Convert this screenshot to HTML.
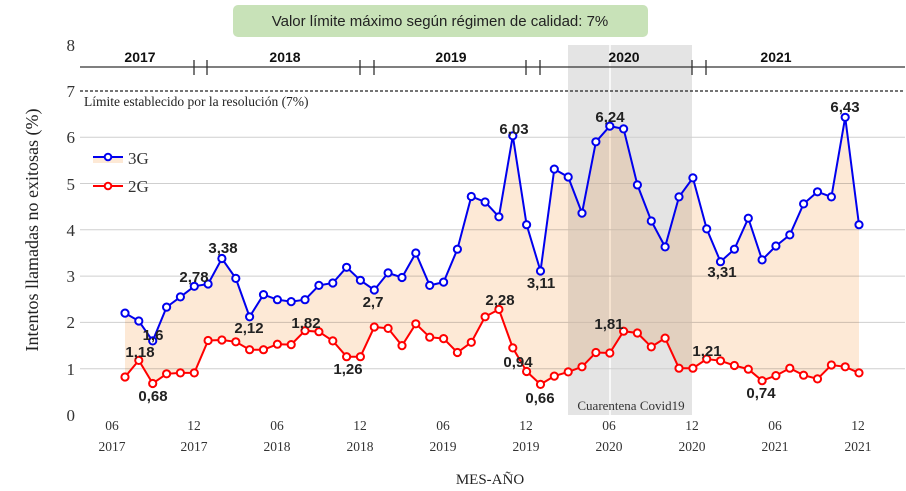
<!DOCTYPE html>
<html><head><meta charset="utf-8"><style>
html,body{margin:0;padding:0;background:#fff;}
svg{display:block;}
.ser{font-family:"Liberation Serif",serif;}
.lab{font-family:"Liberation Sans",sans-serif;font-weight:bold;font-size:15px;fill:#222;text-anchor:middle;}
</style></head><body>
<svg id="s" width="906" height="491" viewBox="0 0 906 491" xmlns="http://www.w3.org/2000/svg">
<rect width="906" height="491" fill="#fff"/>
<rect x="568" y="45" width="124" height="370" fill="#e4e4e4"/>
<line x1="610" y1="45" x2="610" y2="415" stroke="#fff" stroke-width="1.5"/>
<g stroke="#cfcfcf" stroke-width="1">
<line x1="80" y1="368.7" x2="905" y2="368.7"/>
<line x1="80" y1="322.4" x2="905" y2="322.4"/>
<line x1="80" y1="276.1" x2="905" y2="276.1"/>
<line x1="80" y1="229.8" x2="905" y2="229.8"/>
<line x1="80" y1="183.5" x2="905" y2="183.5"/>
<line x1="80" y1="137.2" x2="905" y2="137.2"/>
</g>
<g id="fill" style="mix-blend-mode:multiply"></g>
<g id="series"></g>
<line x1="80" y1="67" x2="905" y2="67" stroke="#333" stroke-width="1.3"/>
<g stroke="#333" stroke-width="1.3">
<line x1="194" y1="60" x2="194" y2="75"/><line x1="207" y1="60" x2="207" y2="75"/>
<line x1="360" y1="60" x2="360" y2="75"/><line x1="374" y1="60" x2="374" y2="75"/>
<line x1="526" y1="60" x2="526" y2="75"/><line x1="540" y1="60" x2="540" y2="75"/>
<line x1="692" y1="60" x2="692" y2="75"/><line x1="706" y1="60" x2="706" y2="75"/>
</g>
<g font-family="Liberation Sans,sans-serif" font-weight="bold" font-size="14" fill="#111" text-anchor="middle">
<text x="140" y="62">2017</text><text x="285" y="62">2018</text><text x="451" y="62">2019</text><text x="624" y="62">2020</text><text x="776" y="62">2021</text>
</g>
<line x1="80" y1="91" x2="905" y2="91" stroke="#222" stroke-width="1.3" stroke-dasharray="3,2"/>
<text class="ser" x="84" y="106" font-size="13.5" fill="#222">Límite establecido por la resolución (7%)</text>
<rect x="233" y="5" width="415" height="32" rx="5" fill="#c8e2b8"/>
<text x="440" y="26" font-family="Liberation Sans,sans-serif" font-size="15" fill="#222" text-anchor="middle">Valor límite máximo según régimen de calidad: 7%</text>
<g class="ser" font-size="17" fill="#333" text-anchor="end">
<text x="75" y="421">0</text><text x="75" y="375">1</text><text x="75" y="328">2</text><text x="75" y="282">3</text>
<text x="75" y="236">4</text><text x="75" y="190">5</text><text x="75" y="143">6</text><text x="75" y="97">7</text><text x="75" y="51">8</text>
</g>
<text class="ser" transform="translate(38,230) rotate(-90)" font-size="18" fill="#222" text-anchor="middle">Intentos llamadas no exitosas (%)</text>
<g class="ser" font-size="13.5" fill="#333" text-anchor="middle">
<text x="112" y="430">06</text><text x="112" y="451">2017</text>
<text x="194" y="430">12</text><text x="194" y="451">2017</text>
<text x="277" y="430">06</text><text x="277" y="451">2018</text>
<text x="360" y="430">12</text><text x="360" y="451">2018</text>
<text x="443" y="430">06</text><text x="443" y="451">2019</text>
<text x="526" y="430">12</text><text x="526" y="451">2019</text>
<text x="609" y="430">06</text><text x="609" y="451">2020</text>
<text x="692" y="430">12</text><text x="692" y="451">2020</text>
<text x="775" y="430">06</text><text x="775" y="451">2021</text>
<text x="858" y="430">12</text><text x="858" y="451">2021</text>
</g>
<text class="ser" x="490" y="484" font-size="15" fill="#222" text-anchor="middle">MES-AÑO</text>
<text class="ser" x="631" y="410" font-size="13" fill="#333" text-anchor="middle">Cuarentena Covid19</text>
<rect x="93" y="157" width="30" height="6" fill="#fde9d6"/>
<line x1="93" y1="157" x2="123" y2="157" stroke="#0000ee" stroke-width="2"/>
<circle cx="108" cy="157" r="3.3" fill="#fff" stroke="#0000ee" stroke-width="2"/>
<text class="ser" x="128" y="164" font-size="17" fill="#333">3G</text>
<line x1="93" y1="186" x2="123" y2="186" stroke="#ff0000" stroke-width="2"/>
<circle cx="108" cy="186" r="3.3" fill="#fff" stroke="#ff0000" stroke-width="2"/>
<text class="ser" x="128" y="192" font-size="17" fill="#333">2G</text>
<g class="lab">
<text x="153" y="340">1,6</text><text x="140" y="357">1,18</text><text x="153" y="401">0,68</text>
<text x="194" y="282">2,78</text><text x="223" y="253">3,38</text><text x="249" y="333">2,12</text>
<text x="306" y="328">1,82</text><text x="348" y="374">1,26</text><text x="373" y="307">2,7</text>
<text x="514" y="134">6,03</text><text x="500" y="305">2,28</text><text x="541" y="288">3,11</text>
<text x="518" y="367">0,94</text><text x="540" y="403">0,66</text><text x="610" y="122">6,24</text>
<text x="609" y="329">1,81</text><text x="722" y="277">3,31</text><text x="707" y="356">1,21</text>
<text x="761" y="398">0,74</text><text x="845" y="112">6,43</text>
</g>
</svg>
<script>
var g3=[2.2,2.03,1.6,2.33,2.55,2.78,2.83,3.38,2.95,2.12,2.6,2.49,2.45,2.49,2.8,2.85,3.19,2.91,2.7,3.07,2.97,3.5,2.8,2.87,3.58,4.72,4.6,4.28,6.03,4.11,3.11,5.31,5.14,4.36,5.9,6.24,6.18,4.97,4.19,3.63,4.71,5.12,4.02,3.31,3.58,4.25,3.35,3.65,3.89,4.56,4.82,4.71,6.43,4.11];
var g2=[0.82,1.18,0.68,0.89,0.91,0.91,1.61,1.62,1.58,1.41,1.41,1.53,1.52,1.82,1.8,1.6,1.26,1.26,1.9,1.87,1.5,1.97,1.68,1.65,1.35,1.57,2.12,2.28,1.45,0.94,0.66,0.84,0.93,1.04,1.35,1.34,1.81,1.77,1.47,1.66,1.01,1.01,1.21,1.17,1.07,0.99,0.74,0.85,1.01,0.86,0.78,1.08,1.04,0.91];
function X(i){return 125+i*13.85;} function Y(v){return 415-v*46.3;}
var ns="http://www.w3.org/2000/svg";
var p3=g3.map(function(v,i){return X(i).toFixed(1)+","+Y(v).toFixed(1);});
var p2=g2.map(function(v,i){return X(i).toFixed(1)+","+Y(v).toFixed(1);});
var f=document.createElementNS(ns,"polygon");
f.setAttribute("points",p3.concat(p2.slice().reverse()).join(" "));
f.setAttribute("fill","#fde9d6");
document.getElementById("fill").appendChild(f);
var s=document.getElementById("series");
[[p3,"#0000ee"],[p2,"#ff0000"]].forEach(function(a){
 var l=document.createElementNS(ns,"polyline");
 l.setAttribute("points",a[0].join(" "));l.setAttribute("fill","none");
 l.setAttribute("stroke",a[1]);l.setAttribute("stroke-width","2");s.appendChild(l);
 a[0].forEach(function(pt){var c=document.createElementNS(ns,"circle");var q=pt.split(",");
  c.setAttribute("cx",q[0]);c.setAttribute("cy",q[1]);c.setAttribute("r","3.6");
  c.setAttribute("fill","#fff");c.setAttribute("stroke",a[1]);c.setAttribute("stroke-width","2");s.appendChild(c);});
});
</script>
</body></html>
